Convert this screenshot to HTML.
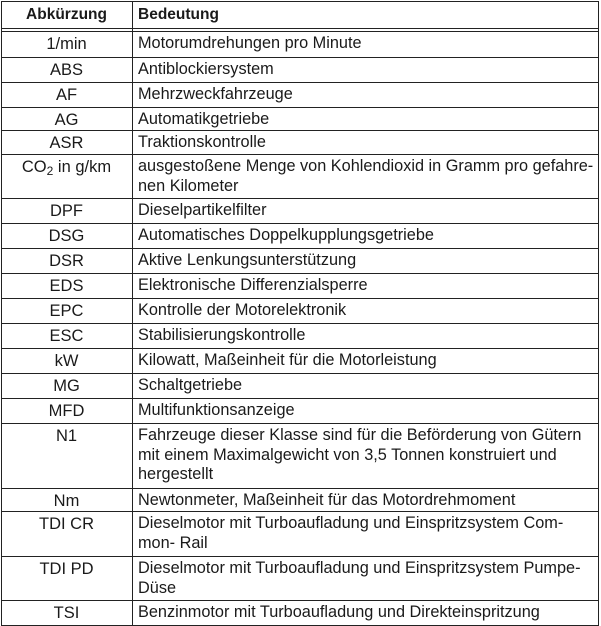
<!DOCTYPE html>
<html><head><meta charset="utf-8"><style>
body{margin:0;width:601px;height:626px;background:#fff;position:relative;overflow:hidden;font-family:"Liberation Sans",sans-serif;color:#1a1a1a;}
.h{position:absolute;left:1px;width:598px;height:1px;background:#222;}
.v{position:absolute;top:1px;height:624px;width:1px;background:#222;}
.a{position:absolute;left:1px;width:131px;text-align:center;font-size:16.5px;white-space:nowrap;line-height:20px;}
.b{position:absolute;left:138px;font-size:16.3px;white-space:nowrap;line-height:19.5px;}
</style></head><body>
<div class="h" style="top:1px"></div>
<div class="h" style="top:28px"></div>
<div class="h" style="top:31px"></div>
<div class="v" style="left:1px"></div>
<div class="v" style="left:132px"></div>
<div class="v" style="left:598px"></div>
<div class="a" style="top:5px;font-weight:bold;font-size:15.5px">Abkürzung</div>
<div class="b" style="top:5px;font-weight:bold;font-size:15.5px">Bedeutung</div>
<div id="rows"></div>
<script>
var rows=[
["1/min",["Motorumdrehungen pro Minute"],31,57],
["ABS",["Antiblockiersystem"],57,82],
["AF",["Mehrzweckfahrzeuge"],82,107],
["AG",["Automatikgetriebe"],107,130],
["ASR",["Traktionskontrolle"],130,154],
["CO<sub style='font-size:12px;vertical-align:-3px'>2</sub> in g/km",["ausgestoßene Menge von Kohlendioxid in Gramm pro gefahre-","nen Kilometer"],154,198],
["DPF",["Dieselpartikelfilter"],198,223],
["DSG",["Automatisches Doppelkupplungsgetriebe"],223,248],
["DSR",["Aktive Lenkungsunterstützung"],248,273],
["EDS",["Elektronische Differenzialsperre"],273,298],
["EPC",["Kontrolle der Motorelektronik"],298,323],
["ESC",["Stabilisierungskontrolle"],323,348],
["kW",["Kilowatt, Maßeinheit für die Motorleistung"],348,373],
["MG",["Schaltgetriebe"],373,398],
["MFD",["Multifunktionsanzeige"],398,423],
["N1",["Fahrzeuge dieser Klasse sind für die Beförderung von Gütern","mit einem Maximalgewicht von 3,5 Tonnen konstruiert und","hergestellt"],423,488],
["Nm",["Newtonmeter, Maßeinheit für das Motordrehmoment"],488,511],
["TDI CR",["Dieselmotor mit Turboaufladung und Einspritzsystem Com-","mon- Rail"],511,556],
["TDI PD",["Dieselmotor mit Turboaufladung und Einspritzsystem Pumpe-","Düse"],556,600],
["TSI",["Benzinmotor mit Turboaufladung und Direkteinspritzung"],600,625]];
var h="";
rows.forEach(function(r){
h+='<div class="a" style="top:'+(r[2]+3)+'px">'+r[0]+'</div>';
h+='<div class="b" style="top:'+(r[2]+3)+'px">'+r[1].join("<br>")+'</div>';
h+='<div class="h" style="top:'+r[3]+'px"></div>';
});
document.getElementById("rows").innerHTML=h;
</script>
</body></html>
